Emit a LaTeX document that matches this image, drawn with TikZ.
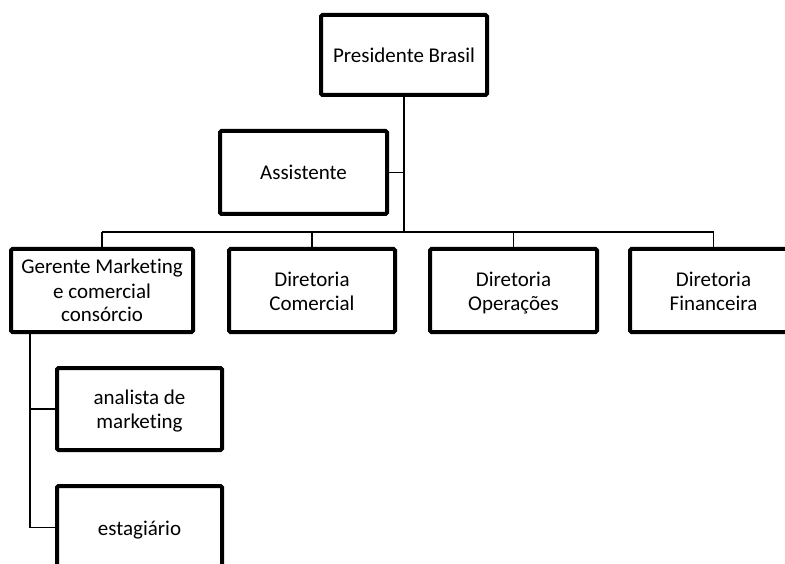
\documentclass[tikz,border=0pt]{standalone}
\usepackage{fontspec}
\setmainfont{Carlito}[Ligatures=NoCommon]
% fixed line height and depth so every label sits the same way in its box
\newcommand\hstrut{\rule{0pt}{19.5pt}}
\newcommand\dstrut{\rule[-4.5pt]{0pt}{4.5pt}}
\begin{document}
\begin{tikzpicture}[x=1pt,y=-1pt,
  unit/.style={draw, line width=4pt, rounded corners=1.5pt, align=center,
    minimum width=166pt, minimum height=83pt, inner sep=0pt,
    font=\fontsize{21}{24}\selectfont},
  link/.style={line width=1.8pt}]
\useasboundingbox (0,0) rectangle (785,564);
\clip (0,0) rectangle (785,564);

% boxes
\node[unit, minimum height=80pt] (pres) at (404,55) {\hstrut Presidente Brasil\dstrut};
\node[unit, minimum width=167pt] (asst) at (303.5,172.5) {\hstrut Assistente\dstrut};
\node[unit, minimum width=182pt] (ger) at (102,290.5) {\hstrut Gerente Marketing\\e comercial\\consórcio\dstrut};
\node[unit] (com) at (312,290.5) {\hstrut Diretoria\\Comercial\dstrut};
\node[unit, minimum width=167pt] (ops) at (513.5,290.5) {\hstrut Diretoria\\Operações\dstrut};
\node[unit, minimum width=167pt] (fin) at (713.5,290.5) {\hstrut Diretoria\\Financeira\dstrut};
\node[unit, minimum width=165pt, minimum height=82pt] (ana) at (139.5,409) {\hstrut analista de\\marketing\dstrut};
\node[unit, minimum width=165pt] (est) at (139.5,527.5) {\hstrut estagiário\dstrut};

% connector anchors
\coordinate (bus) at (404,232);
\coordinate (trunk) at (30,400);

% president to directors
\draw[link] (pres.south) -- (pres.south |- bus);
\draw[link] (asst.east) -- (asst.east -| pres.south);
\draw[link] (bus -| ger.north) -- (bus -| fin.north);
\foreach \n in {ger,com,ops,fin}
  \draw[link] (bus -| \n.north) -- (\n.north);

% marketing team
\draw[link] (ger.south -| trunk) -- (trunk |- est.west) -- (est.west);
\draw[link] (trunk |- ana.west) -- (ana.west);
\end{tikzpicture}
\end{document}
